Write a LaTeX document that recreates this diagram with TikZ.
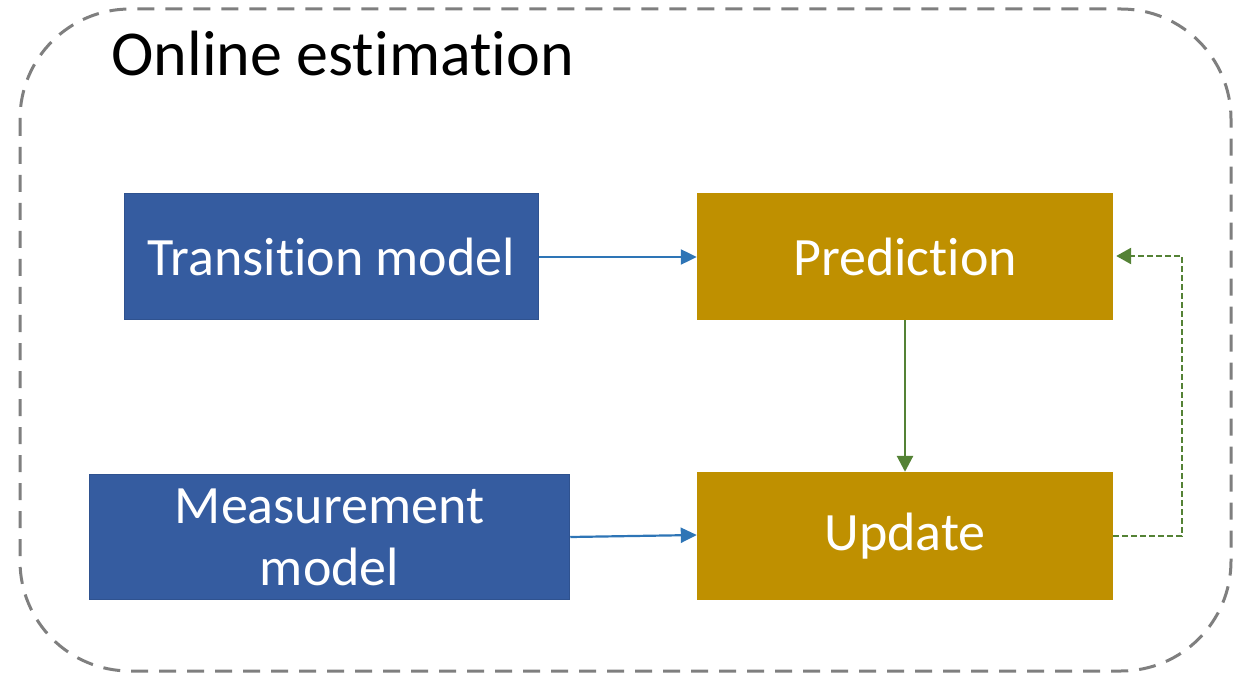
\documentclass[tikz,border=0pt]{standalone}
\usepackage{fontspec}
\setmainfont{Carlito}[RawFeature={-liga;-clig;-calt;-dlig;-ccmp}]
\usetikzlibrary{arrows.meta}
\definecolor{boxblue}{HTML}{355CA0}
\definecolor{boxblueedge}{HTML}{2F528F}
\definecolor{boxgold}{HTML}{BF9000}
\definecolor{arrblue}{HTML}{2E75B6}
\definecolor{arrgreen}{HTML}{548235}
\definecolor{framegray}{HTML}{7F7F7F}
\tikzset{
  modelbox/.style={draw=boxblueedge, line width=1.5pt, fill=boxblue, text=white, font=\fontsize{54}{62}\selectfont, align=center, inner sep=0pt},
  stagebox/.style={fill=boxgold, text=white, font=\fontsize{54}{62}\selectfont, align=center, inner sep=0pt},
  bluearrow/.style={draw=arrblue, line width=2.2pt, -{Triangle[length=16pt,width=15pt]}},
  greenarrow/.style={draw=arrgreen, line width=2.8pt, -{Triangle[length=16pt,width=16pt]}},
  greendashed/.style={draw=arrgreen, line width=2.6pt, dash pattern=on 6pt off 3pt, -{Triangle[length=15pt,width=16pt]}},
  framebox/.style={draw=framegray, line width=3pt, dash pattern=on 17pt off 11pt, rounded corners=110pt},
}
\begin{document}
\begin{tikzpicture}[x=1pt,y=-1pt]
\useasboundingbox (0,0) rectangle (1234,676);
\draw[framebox] (20,9) rectangle (1231,671);
\node[anchor=base west, font=\fontsize{64}{72}\selectfont] (title) at (108,76) {Online estimation};
\node[modelbox, minimum width=414pt, minimum height=126pt] (trans) at (331.5,256.5) {Transition model};
\node[modelbox, minimum width=480pt, minimum height=125pt] (meas) at (329.5,537) {Measurement\\model};
\node[stagebox, minimum width=416pt, minimum height=127pt] (pred) at (905,256.5) {Prediction};
\node[stagebox, minimum width=416pt, minimum height=128pt] (upd) at (905,536) {Update};
\coordinate (corner1) at (1182,536);
\coordinate (corner2) at (1182,256);
\draw[bluearrow] (trans.east |- 0,257) -- (pred.west |- 0,257);
\draw[bluearrow] (meas.east |- 0,537) -- (upd.west |- 0,535);
\draw[greenarrow] (pred.south) -- (upd.north);
\draw[greendashed] (upd.east |- 0,536) -- (corner1) -- (corner2) -- ([xshift=3pt]pred.east |- 0,256);
\end{tikzpicture}
\end{document}
